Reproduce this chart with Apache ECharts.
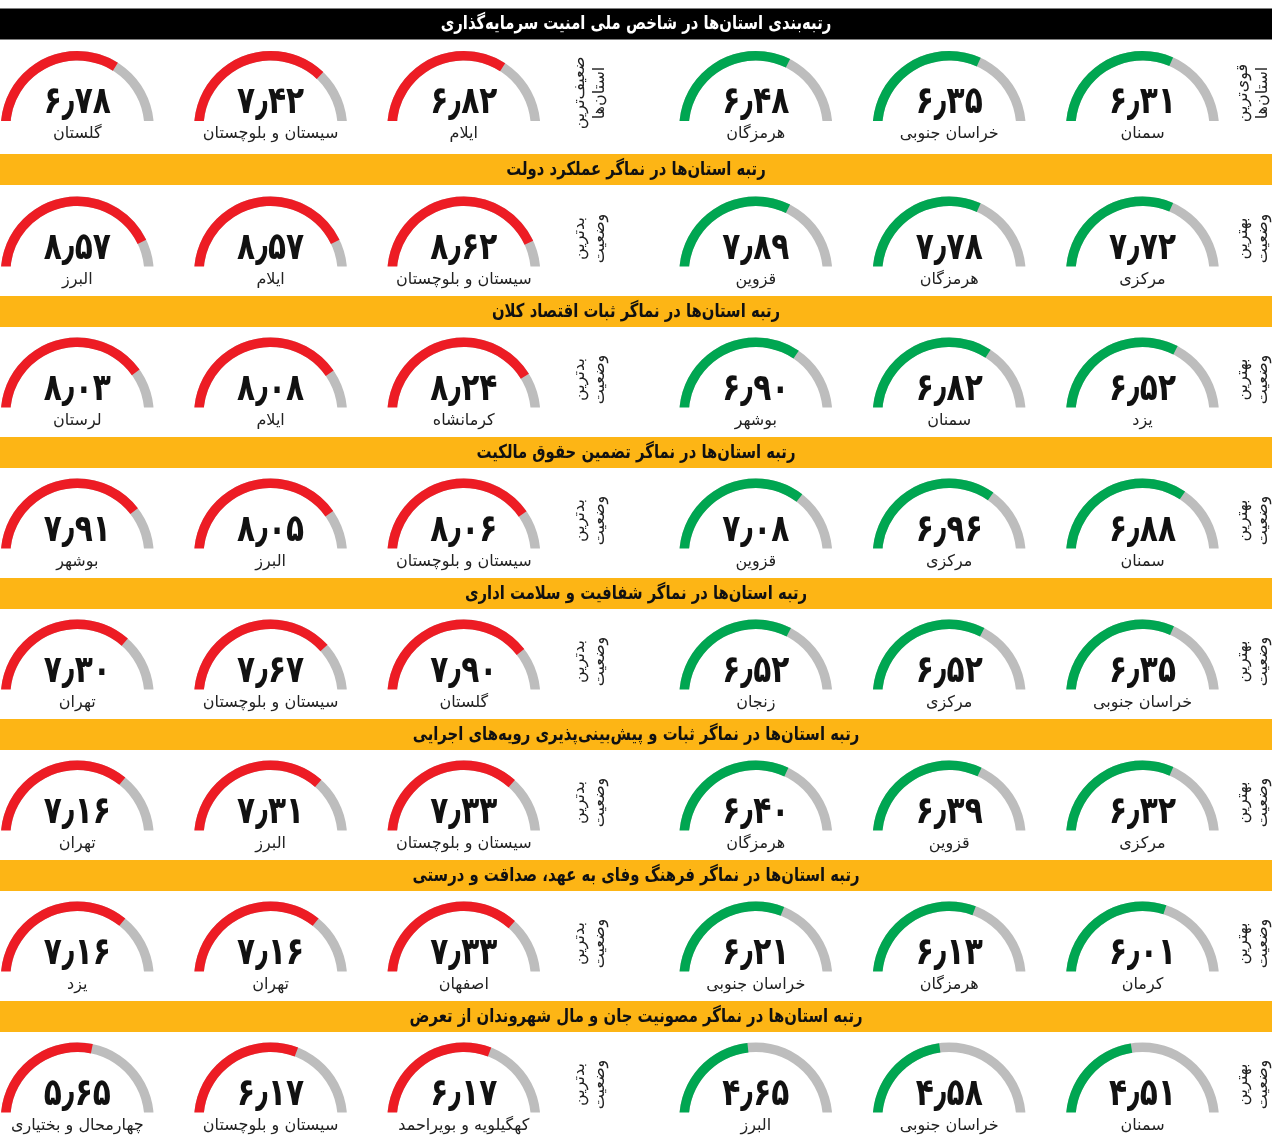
<!DOCTYPE html>
<html>
<head>
<meta charset="utf-8">
<style>
  html, body { margin: 0; padding: 0; background: #fff; }
  #main { width: 1280px; height: 1140px; }
</style>
<script src="https://cdn.jsdelivr.net/npm/echarts@6/dist/echarts.min.js"></script>
</head>
<body>
<div id="main"></div>
<script>
var rowTitles = [
  "رتبه‌بندی استان‌ها در شاخص ملی امنیت سرمایه‌گذاری",
  "رتبه استان‌ها در نماگر عملکرد دولت",
  "رتبه استان‌ها در نماگر ثبات اقتصاد کلان",
  "رتبه استان‌ها در نماگر تضمین حقوق مالکیت",
  "رتبه استان‌ها در نماگر شفافیت و سلامت اداری",
  "رتبه استان‌ها در نماگر ثبات و پیش‌بینی‌پذیری رویه‌های اجرایی",
  "رتبه استان‌ها در نماگر فرهنگ وفای به عهد، صداقت و درستی",
  "رتبه استان‌ها در نماگر مصونیت جان و مال شهروندان از تعرض"
];

// right hand group, from the right
var bestNames = [
  ["سمنان", "خراسان جنوبی", "هرمزگان"],
  ["مرکزی", "هرمزگان", "قزوین"],
  ["یزد", "سمنان", "بوشهر"],
  ["سمنان", "مرکزی", "قزوین"],
  ["خراسان جنوبی", "مرکزی", "زنجان"],
  ["مرکزی", "قزوین", "هرمزگان"],
  ["کرمان", "هرمزگان", "خراسان جنوبی"],
  ["سمنان", "خراسان جنوبی", "البرز"]
];
var bestValues = [
  [6.31, 6.35, 6.48],
  [7.72, 7.78, 7.89],
  [6.52, 6.82, 6.90],
  [6.88, 6.96, 7.08],
  [6.35, 6.52, 6.52],
  [6.32, 6.39, 6.40],
  [6.01, 6.13, 6.21],
  [4.51, 4.58, 4.65]
];

// left hand group, from the right
var worstNames = [
  ["ایلام", "سیستان و بلوچستان", "گلستان"],
  ["سیستان و بلوچستان", "ایلام", "البرز"],
  ["کرمانشاه", "ایلام", "لرستان"],
  ["سیستان و بلوچستان", "البرز", "بوشهر"],
  ["گلستان", "سیستان و بلوچستان", "تهران"],
  ["سیستان و بلوچستان", "البرز", "تهران"],
  ["اصفهان", "تهران", "یزد"],
  ["کهگیلویه و بویراحمد", "سیستان و بلوچستان", "چهارمحال و بختیاری"]
];
var worstValues = [
  [6.82, 7.42, 6.78],
  [8.62, 8.57, 8.57],
  [8.24, 8.08, 8.03],
  [8.06, 8.05, 7.91],
  [7.90, 7.67, 7.30],
  [7.33, 7.31, 7.16],
  [7.33, 7.16, 7.16],
  [6.17, 6.17, 5.65]
];

// second row: the picture draws these three arcs shorter than their printed numbers
var bestArcsRow2 = [6.31, 6.35, 6.48];

var sideBest = ["قوی‌ترین\nاستان‌ها", "بهترین\nوضعیت"];
var sideWorst = ["ضعیف‌ترین\nاستان‌ها", "بدترین\nوضعیت"];

var bestX = [1142.5, 949.2, 755.8];
var worstX = [463.8, 270.6, 77.3];
var barY = [8.5, 154, 296, 437, 578, 719, 860, 1001];
var arcBottom = [121, 266.5, 407.5, 548.5, 689.5, 830.5, 971.5, 1112.5];

var font = "DejaVu Sans";

function faDigits(v) {
  return v.toFixed(2).replace(/[0-9]/g, function (d) {
    return "۰۱۲۳۴۵۶۷۸۹"[+d];
  });
}

function gauge(x, y, arc, color) {
  return {
    type: "gauge",
    center: [x, y],
    radius: 76.5,
    startAngle: 180,
    endAngle: 0,
    min: 0,
    max: 10,
    animation: false,
    silent: true,
    axisLine: { lineStyle: { width: 9.5, color: [[1, "#bdbdbd"]] } },
    progress: { show: true, width: 9.5, itemStyle: { color: color } },
    pointer: { show: false },
    anchor: { show: false },
    axisTick: { show: false },
    splitLine: { show: false },
    axisLabel: { show: false },
    title: { show: false },
    detail: { show: false },
    data: [{ value: arc }]
  };
}

var series = [];
var graphic = [];

function text(x, y, str, size, weight, color, extra, styleExtra) {
  graphic.push(Object.assign({
    type: "text",
    x: x,
    y: y,
    z: 5,
    silent: true,
    style: Object.assign({
      text: str,
      fill: color,
      font: weight + " " + size + "px '" + font + "'",
      textAlign: "center",
      textVerticalAlign: "middle"
    }, styleExtra || {})
  }, extra || {}));
}

// number in the gauge; the decimal mark is a bigger token so it reads like the picture's long slash
function valueText(x, y, v) {
  var parts = faDigits(v).split(".");
  var str = "{d|" + parts[0] + "}{s|٫}{d|" + parts[1] + "}";
  text(x, y, str, 38, "bold", "#111", { scaleX: 0.78 }, {
    rich: {
      d: { font: "bold 38px '" + font + "'", fill: "#111" },
      s: { font: "bold 44px '" + font + "'", fill: "#111" }
    }
  });
}

rowTitles.forEach(function (title, r) {
  var cy = arcBottom[r] + 6.5;

  // title bar
  graphic.push({
    type: "rect", z: 4, silent: true,
    shape: { x: 0, y: barY[r], width: 1272, height: 31 },
    style: { fill: r === 0 ? "#000" : "#fdb515" }
  });
  text(636, barY[r] + 16, title, 19, "bold", r === 0 ? "#fff" : "#111", { scaleX: 0.78 });

  // the arcs stop flat a little above their centre
  graphic.push({
    type: "rect", z: 3, silent: true,
    shape: { x: 0, y: arcBottom[r], width: 1280, height: 8 },
    style: { fill: "#fff" }
  });

  bestX.forEach(function (x, c) {
    var arc = r === 1 ? bestArcsRow2[c] : bestValues[r][c];
    series.push(gauge(x, cy, arc, "#00a651"));
    valueText(x, arcBottom[r] - 17.5, bestValues[r][c]);
    text(x, arcBottom[r] + 13, bestNames[r][c], 16, "normal", "#222");
  });
  worstX.forEach(function (x, c) {
    series.push(gauge(x, cy, worstValues[r][c], "#ed1c24"));
    valueText(x, arcBottom[r] - 17.5, worstValues[r][c]);
    text(x, arcBottom[r] + 13, worstNames[r][c], 16, "normal", "#222");
  });

  // side captions, turned on their side
  var k = r === 0 ? 0 : 1;
  var sy = arcBottom[r] - 28;
  text(1253, sy, sideBest[k], 16, "normal", "#222", { rotation: Math.PI / 2 }, { lineHeight: 20 });
  text(590, sy, sideWorst[k], 16, "normal", "#222", { rotation: Math.PI / 2 }, { lineHeight: 20 });
});

var myChart = echarts.init(document.getElementById("main"));
myChart.setOption({
  backgroundColor: "#fff",
  animation: false,
  series: series,
  graphic: { elements: graphic }
});
</script>
</body>
</html>
